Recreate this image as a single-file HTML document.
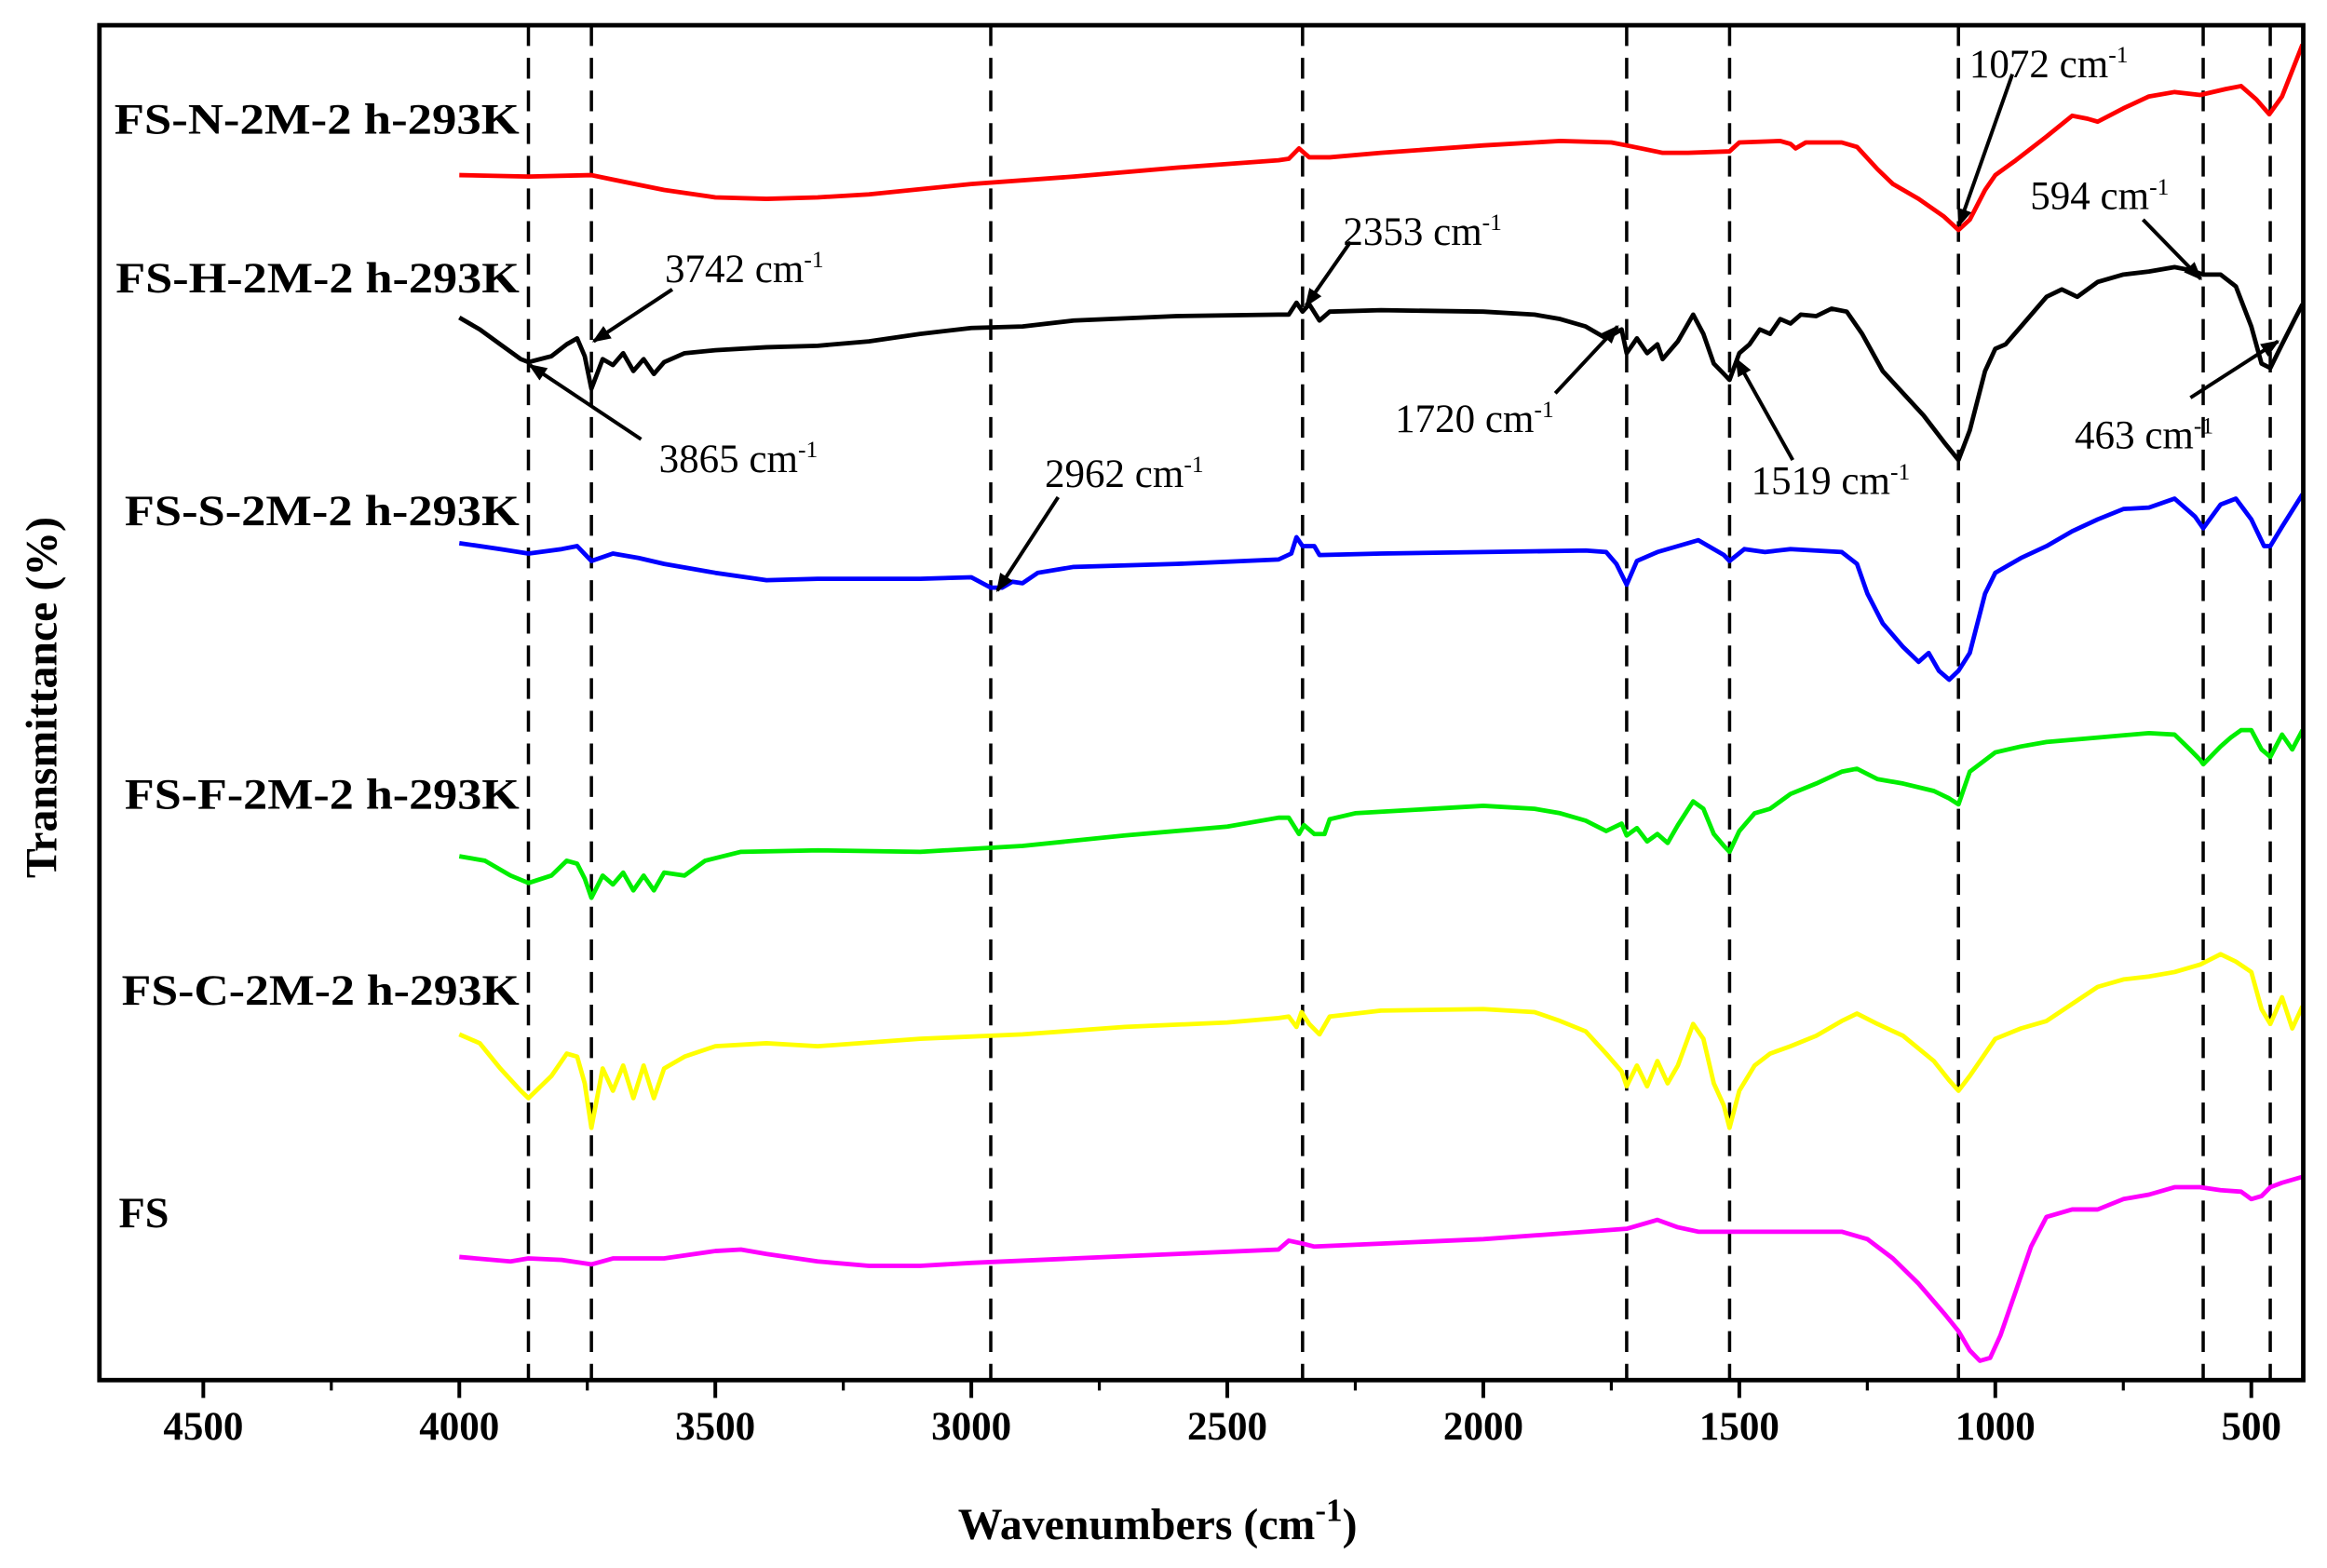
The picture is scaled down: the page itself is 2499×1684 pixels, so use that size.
<!DOCTYPE html>
<html><head><meta charset="utf-8"><style>
html,body{margin:0;padding:0;background:#fff;}
svg{display:block;}
text{font-family:"Liberation Serif",serif;fill:#000;}
</style></head><body>
<svg id="chart" width="2499" height="1684" viewBox="0 0 1568 1056.6" preserveAspectRatio="none" xmlns="http://www.w3.org/2000/svg">
<g id="grid"></g>
<g id="series"></g>
<g id="axes"></g>
<g id="labels"></g>
<g id="annots"></g>
</svg>
<script>
// Data arrays (wavenumber cm-1, relative transmittance in a.u.)
const peakLines = [3865, 3742, 2962, 2353, 1720, 1519, 1072, 594, 463];
const xTicks = [4500, 4000, 3500, 3000, 2500, 2000, 1500, 1000, 500];
const xMinorTicks = [4250, 3750, 3250, 2750, 2250, 1750, 1250, 750];
const seriesNames = ["FS-N-2M-2 h-293K","FS-H-2M-2 h-293K","FS-S-2M-2 h-293K","FS-F-2M-2 h-293K","FS-C-2M-2 h-293K","FS"];
const seriesColors = ["#ff0000","#000000","#0000ff","#00ee00","#ffff00","#ff00ff"];
const wnN = [4000,3865,3742,3700,3600,3500,3400,3300,3200,3000,2800,2600,2400,2380,2360,2340,2300,2200,2000,1850,1750,1720,1650,1600,1519,1500,1420,1400,1390,1370,1300,1270,1230,1200,1150,1100,1072,1050,1020,1000,960,900,850,820,800,750,700,650,600,550,520,490,465,440,400];
const tN = [812,811,812,809,802,797,796,797,799,806,811,817,822,823,830,824,824,827,832,835,834,832,827,827,828,834,835,833,830,834,834,831,816,806,796,784,775,782,802,812,822,838,852,850,848,857,865,868,866,870,872,863,853,865,900];
const wnH = [4000,3960,3920,3880,3865,3820,3790,3770,3755,3742,3720,3700,3680,3660,3640,3620,3600,3560,3500,3400,3300,3200,3100,3000,2900,2800,2600,2400,2380,2365,2353,2340,2320,2300,2200,2000,1900,1850,1800,1760,1730,1720,1700,1680,1660,1650,1620,1600,1590,1570,1550,1530,1519,1500,1480,1460,1440,1420,1400,1380,1350,1320,1290,1260,1220,1180,1140,1100,1072,1050,1020,1000,980,950,900,870,840,800,750,700,650,620,594,560,530,500,480,463,440,415,400];
const tH = [716,708,698,688,686,690,698,702,690,668,688,684,692,680,688,678,686,692,694,696,697,700,705,709,710,714,717,718,718,726,720,725,714,720,721,720,718,715,710,702,708,692,702,692,698,688,700,712,718,705,685,678,674,692,698,708,705,715,712,718,717,722,720,705,680,665,650,632,620,640,680,695,698,710,730,735,730,740,745,747,750,748,745,745,737,710,685,682,698,715,725];
const wnS = [4000,3920,3865,3800,3770,3742,3700,3650,3600,3500,3400,3300,3100,3000,2962,2940,2920,2900,2870,2800,2600,2400,2375,2365,2353,2330,2320,2200,2000,1800,1760,1740,1720,1700,1660,1620,1580,1560,1530,1519,1490,1450,1400,1300,1270,1250,1220,1180,1150,1130,1110,1090,1072,1050,1020,1000,950,900,850,800,750,700,650,610,594,560,530,500,475,463,440,400];
const tS = [564,560,557,560,562,552,557,554,550,544,539,540,540,541,534,534,538,537,544,548,550,553,557,568,562,562,556,557,558,559,558,550,536,552,558,562,566,562,556,552,560,558,560,558,550,530,510,494,484,490,478,472,478,490,530,544,554,562,572,580,587,588,594,582,574,590,594,580,562,562,575,597];
const wnF = [4000,3950,3900,3865,3820,3790,3770,3755,3742,3720,3700,3680,3660,3640,3620,3600,3560,3520,3450,3300,3100,2900,2700,2500,2400,2380,2360,2350,2330,2310,2300,2250,2000,1900,1850,1800,1760,1730,1720,1700,1680,1660,1640,1620,1590,1570,1550,1530,1519,1500,1470,1440,1400,1350,1300,1270,1230,1180,1120,1090,1072,1050,1000,950,900,800,700,650,620,600,594,560,540,520,500,480,463,440,420,400];
const tF = [353,350,340,335,340,350,348,338,325,340,334,342,330,340,330,342,340,350,356,357,356,360,367,373,379,379,368,374,368,368,378,382,387,385,382,377,370,375,367,372,363,368,362,374,390,385,368,360,356,370,382,385,395,402,410,412,405,402,397,392,388,410,423,427,430,433,436,435,425,418,415,427,433,438,438,425,420,435,425,438];
const wnC = [4000,3960,3920,3880,3865,3820,3790,3770,3755,3742,3720,3700,3680,3660,3640,3620,3600,3560,3500,3400,3300,3100,2900,2700,2500,2400,2380,2365,2355,2340,2320,2300,2200,2000,1900,1850,1800,1760,1730,1720,1700,1680,1660,1640,1620,1590,1570,1550,1530,1519,1500,1470,1440,1400,1350,1300,1270,1230,1180,1120,1090,1072,1050,1000,950,900,800,750,700,650,600,560,530,500,480,463,440,420,400];
const tC = [233,227,210,195,190,205,220,218,200,170,210,195,212,190,212,190,210,218,225,227,225,230,233,238,241,244,245,238,248,240,233,245,249,250,248,242,235,220,208,198,212,198,215,200,212,240,230,200,185,170,195,212,220,225,232,242,247,240,232,215,202,195,205,230,237,242,265,270,272,275,280,287,282,275,250,240,258,237,252];
const wnFS = [4000,3900,3865,3800,3742,3700,3600,3500,3450,3400,3300,3200,3100,3000,2800,2600,2400,2380,2353,2330,2200,2000,1800,1720,1660,1620,1580,1519,1450,1400,1300,1250,1200,1150,1100,1072,1050,1030,1010,990,960,930,900,850,800,750,700,650,600,560,520,500,480,463,440,400];
const tFS = [83,80,82,81,78,82,82,87,88,85,80,77,77,79,82,85,88,94,92,90,92,95,100,102,108,103,100,100,100,100,100,95,82,65,45,33,20,13,15,30,60,90,110,115,115,122,125,130,130,128,127,122,124,130,133,137];

// Scales
const X0 = 137, PXU = 0.345, Y0 = 930;
function xs(w){ return X0 + (4500 - w) * PXU; }
function ys(v){ return Y0 - v; }
const NS = "http://www.w3.org/2000/svg";
function mk(tag, attrs, parent){ const e = document.createElementNS(NS, tag); for (const k in attrs) e.setAttribute(k, attrs[k]); parent.appendChild(e); return e; }

const grid = document.getElementById('grid');
peakLines.forEach(w => {
  const l = mk('line', {x1: xs(w), x2: xs(w), y1: 17, y2: 930, stroke: '#000', 'stroke-width': 2.2, 'stroke-dasharray': '14,8'}, grid);
  
  
});

const sg = document.getElementById('series');
const allW = [wnN, wnH, wnS, wnF, wnC, wnFS];
const allT = [tN, tH, tS, tF, tC, tFS];
allW.forEach((ws, i) => {
  const ts = allT[i];
  const d = ws.map((w, j) => (j ? 'L' : 'M') + xs(w).toFixed(1) + ',' + ys(ts[j]).toFixed(1)).join('');
  const p = mk('path', {d: d, fill: 'none', stroke: seriesColors[i], 'stroke-width': 3, 'stroke-linejoin': 'round'}, sg);
  
  
});

// Axes
const ax = document.getElementById('axes');
const frame = mk('rect', {x: 67, y: 17, width: 1485, height: 913, fill: 'none', stroke: '#000', 'stroke-width': 3}, ax);


xTicks.forEach(w => {
  const t = mk('line', {x1: xs(w), x2: xs(w), y1: 930, y2: 942, stroke: '#000', 'stroke-width': 2.5}, ax);
  
  
  const lb = mk('text', {x: xs(w), y: 970, 'font-size': 27, 'text-anchor': 'middle', 'font-weight': 'bold'}, ax);
  lb.textContent = w;
  
  
});
xMinorTicks.forEach(w => {
  const t = mk('line', {x1: xs(w), x2: xs(w), y1: 930, y2: 937, stroke: '#000', 'stroke-width': 2}, ax);
  
  
});
const xt = mk('text', {x: 780, y: 1037, 'font-size': 30, 'text-anchor': 'middle', 'font-weight': 'bold'}, ax);
xt.innerHTML = 'Wavenumbers (cm<tspan dy="-12" font-size="22">-1</tspan><tspan dy="12">)</tspan>';


const yt = mk('text', {x: 0, y: 0, 'font-size': 30, 'text-anchor': 'middle', 'font-weight': 'bold', transform: 'translate(38,470) rotate(-90)'}, ax);
yt.textContent = 'Transmittance (%)';



// Series labels
const lg = document.getElementById('labels');
const labelPos = [[77,90],[78,197],[84,354],[84,545],[82,677],[80,827]];
seriesNames.forEach((n, i) => {
  const attrs = {x: labelPos[i][0], y: labelPos[i][1], 'font-size': 29, 'font-weight': 'bold'};
  if (n.length > 3) { attrs.textLength = 350 - labelPos[i][0]; attrs.lengthAdjust = 'spacingAndGlyphs'; }
  const t = mk('text', attrs, lg);
  t.textContent = n;
  
  
});

// Annotations
const an = document.getElementById('annots');
const defs = mk('defs', {}, an);
const mrk = mk('marker', {id: 'ah', viewBox: '0 0 10 10', refX: 9, refY: 5, markerWidth: 5, markerHeight: 5, orient: 'auto'}, defs);
mk('path', {d: 'M0,1 L10,5 L0,9 z', fill: '#000'}, mrk);
const annText = ["1072","594","2353","3742","1720","3865","2962","1519","463"];
const annPos = [[1327,52],[1368,141],[905,165],[448,190],[940,291],[444,318],[704,328],[1180,333],[1398,302]];
const annArrows = [[1356,50,1320,152],[1444,148,1483,188],[910,163,880,206],[453,195,400,230],[1048,265,1090,220],[432,296,357,246],[713,335,672,398],[1208,310,1170,242],[1476,268,1535,230]];
annText.forEach((s, i) => {
  const t = mk('text', {x: annPos[i][0], y: annPos[i][1], 'font-size': 27}, an);
  t.innerHTML = s + ' cm<tspan dy="-10" font-size="16">-1</tspan>';
  
  
  const a = annArrows[i];
  const l = mk('line', {x1: a[0], y1: a[1], x2: a[2], y2: a[3], stroke: '#000', 'stroke-width': 2.5, 'marker-end': 'url(#ah)'}, an);
  
  
});
</script>
</body></html>
